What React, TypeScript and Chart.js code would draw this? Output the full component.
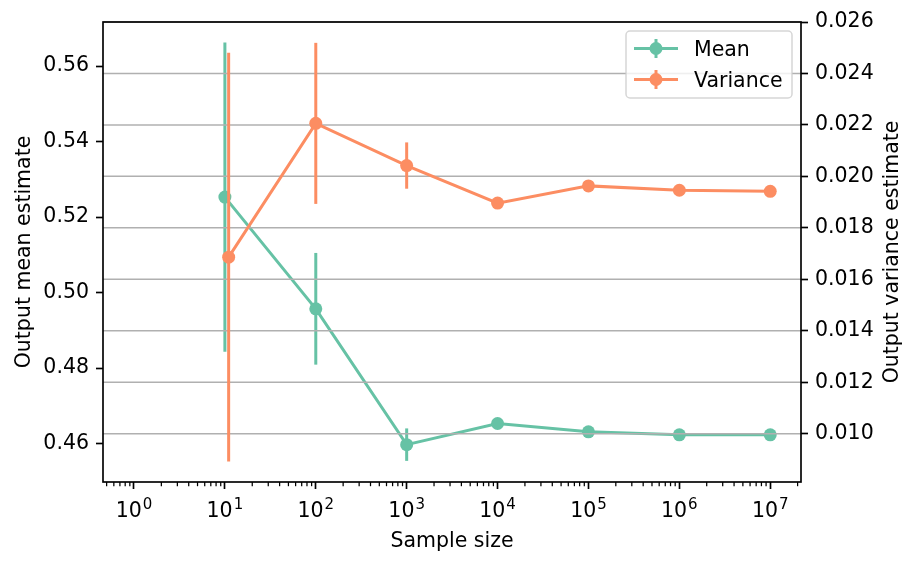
import React, { useEffect, useRef } from 'react';
import { Chart, registerables } from 'chart.js';

Chart.register(...registerables);

// ---- data ----
const meanSampleSizes = [10, 100, 1000, 1e4, 1e5, 1e6, 1e7];
const varianceSampleSizes = [11, 100, 1000, 1e4, 1e5, 1e6, 1e7];
const meanValues = [0.5253, 0.4957, 0.4597, 0.4653, 0.4631, 0.4623, 0.4623];
const meanErrors = [0.041, 0.0148, 0.0043, 0.0013, 0.0004, 0.00013, 0.00004];
const varianceValues = [0.01686, 0.02206, 0.02042, 0.01896, 0.01963, 0.01946, 0.01942];
const varianceErrors = [0.00794, 0.00313, 0.0009, 0.0002, 0.00007, 0.00002, 0.00001];
const seriesLabels = ['Mean', 'Variance'];
const xMajorTicks = [1, 10, 100, 1e3, 1e4, 1e5, 1e6, 1e7];
const meanTicks = [0.46, 0.48, 0.5, 0.52, 0.54, 0.56];
const varianceTicks = [0.01, 0.012, 0.014, 0.016, 0.018, 0.02, 0.022, 0.024, 0.026];
const xTitle = 'Sample size';
const yTitle = 'Output mean estimate';
const y1Title = 'Output variance estimate';

const GREEN = '#66c2a5';
const ORANGE = '#fc8d62';
const FONT = "'DejaVu Sans', sans-serif";
const FS = 20.5;
const SUP_FS = 15;

const X_MIN = 0.456;
const X_MAX = 2.18e7;

function drawErrorBars(chart: any, xs: number[], ys: number[], es: number[], axisId: string, color: string) {
  const { ctx, chartArea } = chart;
  const xS = chart.scales.x;
  const yS = chart.scales[axisId];
  ctx.save();
  ctx.beginPath();
  ctx.rect(chartArea.left, chartArea.top, chartArea.right - chartArea.left, chartArea.bottom - chartArea.top);
  ctx.clip();
  ctx.strokeStyle = color;
  ctx.lineWidth = 3;
  ctx.lineCap = 'butt';
  xs.forEach((x, i) => {
    const px = xS.getPixelForValue(x);
    ctx.beginPath();
    ctx.moveTo(px, yS.getPixelForValue(ys[i] - es[i]));
    ctx.lineTo(px, yS.getPixelForValue(ys[i] + es[i]));
    ctx.stroke();
  });
  ctx.restore();
}

function drawRightGrid(chart: any) {
  const { ctx, chartArea } = chart;
  const s = chart.scales.y1;
  ctx.save();
  ctx.strokeStyle = '#b0b0b0';
  ctx.lineWidth = 1.5;
  varianceTicks.forEach((v) => {
    const y = s.getPixelForValue(v);
    if (y < chartArea.top - 0.5 || y > chartArea.bottom + 0.5) return;
    ctx.beginPath();
    ctx.moveTo(chartArea.left, y);
    ctx.lineTo(chartArea.right, y);
    ctx.stroke();
  });
  ctx.restore();
}

const customPlugin = {
  id: 'mplLook',
  beforeDatasetDraw(chart: any, args: any) {
    if (args.index === 0) drawErrorBars(chart, meanSampleSizes, meanValues, meanErrors, 'y', GREEN);
    if (args.index === 1) drawErrorBars(chart, varianceSampleSizes, varianceValues, varianceErrors, 'y1', ORANGE);
  },
  afterDatasetDraw(chart: any, args: any) {
    if (args.index === 0) drawRightGrid(chart);
  },
  afterDraw(chart: any) {
    const { ctx, chartArea } = chart;
    const xS = chart.scales.x;
    ctx.save();
    // minor ticks on log x axis
    ctx.strokeStyle = '#000';
    ctx.lineWidth = 1.25;
    for (let d = -1; d <= 7; d++) {
      for (let m = 2; m <= 9; m++) {
        const v = m * Math.pow(10, d);
        if (v < X_MIN || v > X_MAX) continue;
        const px = xS.getPixelForValue(v);
        ctx.beginPath();
        ctx.moveTo(px, chartArea.bottom);
        ctx.lineTo(px, chartArea.bottom + 4.2);
        ctx.stroke();
      }
    }
    // frame
    ctx.lineWidth = 1.67;
    ctx.strokeRect(chartArea.left, chartArea.top, chartArea.right - chartArea.left, chartArea.bottom - chartArea.top);

    // x tick labels as 10^n (base + raised exponent)
    ctx.fillStyle = '#000';
    ctx.textBaseline = 'alphabetic';
    ctx.textAlign = 'left';
    xMajorTicks.forEach((v) => {
      const e = String(Math.round(Math.log10(v)));
      const px = xS.getPixelForValue(v);
      ctx.font = `${FS}px ${FONT}`;
      const wb = ctx.measureText('10').width;
      ctx.font = `${SUP_FS}px ${FONT}`;
      const we = ctx.measureText(e).width;
      const x0 = px - (wb + we + 1) / 2;
      ctx.font = `${FS}px ${FONT}`;
      ctx.fillText('10', x0, 516.6);
      ctx.font = `${SUP_FS}px ${FONT}`;
      ctx.fillText(e, x0 + wb + 1, 508.6);
    });

    // right axis title, reading bottom to top
    ctx.save();
    ctx.translate(893, (chartArea.top + chartArea.bottom) / 2);
    ctx.rotate(-Math.PI / 2);
    ctx.font = `${FS}px ${FONT}`;
    ctx.textAlign = 'center';
    ctx.textBaseline = 'middle';
    ctx.fillText(y1Title, 0, 0);
    ctx.restore();

    // legend
    const lx = 626, ly = 31, lw = 166, lh = 67;
    ctx.beginPath();
    (ctx as any).roundRect(lx, ly, lw, lh, 4);
    ctx.fillStyle = 'rgba(255,255,255,0.8)';
    ctx.fill();
    ctx.strokeStyle = 'rgba(204,204,204,0.8)';
    ctx.lineWidth = 1.5;
    ctx.stroke();
    const rows = [
      { label: seriesLabels[0], color: GREEN, cy: 48.5, base: 56 },
      { label: seriesLabels[1], color: ORANGE, cy: 79.5, base: 86.7 },
    ];
    rows.forEach((r) => {
      ctx.strokeStyle = r.color;
      ctx.fillStyle = r.color;
      ctx.lineWidth = 3;
      ctx.beginPath();
      ctx.moveTo(634, r.cy);
      ctx.lineTo(678, r.cy);
      ctx.stroke();
      ctx.beginPath();
      ctx.moveTo(656, r.cy - 9.5);
      ctx.lineTo(656, r.cy + 9.5);
      ctx.stroke();
      ctx.beginPath();
      ctx.arc(656, r.cy, 6.5, 0, Math.PI * 2);
      ctx.fill();
      ctx.fillStyle = '#000';
      ctx.font = `${FS}px ${FONT}`;
      ctx.textAlign = 'left';
      ctx.textBaseline = 'alphabetic';
      ctx.fillText(r.label, 694, r.base);
    });
    ctx.restore();
  },
};

export default function App() {
  const ref = useRef<HTMLCanvasElement | null>(null);

  useEffect(() => {
    const canvas = ref.current;
    if (!canvas) return;
    const font = { family: FONT, size: FS };
    const chart = new Chart(canvas, {
      type: 'line',
      data: {
        datasets: [
          {
            label: seriesLabels[0],
            data: meanSampleSizes.map((x, i) => ({ x, y: meanValues[i] })),
            yAxisID: 'y',
            borderColor: GREEN,
            backgroundColor: GREEN,
            borderWidth: 3,
            pointRadius: 6.5,
            pointHoverRadius: 6.5,
            pointBorderWidth: 0,
            pointBackgroundColor: GREEN,
            tension: 0,
            fill: false,
            order: 1,
          },
          {
            label: seriesLabels[1],
            data: varianceSampleSizes.map((x, i) => ({ x, y: varianceValues[i] })),
            yAxisID: 'y1',
            borderColor: ORANGE,
            backgroundColor: ORANGE,
            borderWidth: 3,
            pointRadius: 6.5,
            pointHoverRadius: 6.5,
            pointBorderWidth: 0,
            pointBackgroundColor: ORANGE,
            tension: 0,
            fill: false,
            order: 0,
          },
        ],
      },
      options: {
        responsive: false,
        animation: false,
        events: [],
        layout: { padding: { top: 22, left: 0, right: 0, bottom: 0 } },
        plugins: { legend: { display: false }, tooltip: { enabled: false } },
        scales: {
          x: {
            type: 'logarithmic',
            position: 'bottom',
            min: X_MIN,
            max: X_MAX,
            afterBuildTicks: (s: any) => {
              s.ticks = xMajorTicks.map((v) => ({ value: v }));
            },
            afterFit: (s: any) => {
              s.height = 84;
            },
            ticks: {
              font,
              color: '#000',
              padding: 10,
              maxRotation: 0,
              autoSkip: false,
              callback: () => '',
            },
            grid: { drawOnChartArea: false, drawTicks: true, tickLength: 7, tickWidth: 1.67, tickColor: '#000' },
            border: { display: false },
            title: { display: true, text: xTitle, font, color: '#000', padding: { top: 0, bottom: 12 } },
          },
          y: {
            type: 'linear',
            position: 'left',
            min: 0.4498,
            max: 0.5717,
            afterBuildTicks: (s: any) => {
              s.ticks = meanTicks.map((v) => ({ value: v }));
            },
            afterFit: (s: any) => {
              s.width = 103;
            },
            ticks: { font, color: '#000', padding: 7, callback: (v: any) => Number(v).toFixed(2) },
            grid: { drawOnChartArea: false, drawTicks: true, tickLength: 7, tickWidth: 1.67, tickColor: '#000' },
            border: { display: false },
            title: { display: true, text: yTitle, font, color: '#000', padding: { top: 12, bottom: 0 } },
          },
          y1: {
            type: 'linear',
            position: 'right',
            min: 0.00812,
            max: 0.026,
            afterBuildTicks: (s: any) => {
              s.ticks = varianceTicks.map((v) => ({ value: v }));
            },
            afterFit: (s: any) => {
              s.width = 118;
            },
            ticks: { font, color: '#000', padding: 7, callback: (v: any) => Number(v).toFixed(3) },
            grid: { drawOnChartArea: false, drawTicks: true, tickLength: 7, tickWidth: 1.67, tickColor: '#000' },
            border: { display: false },
            title: { display: false },
          },
        },
      } as any,
      plugins: [customPlugin],
    });
    return () => chart.destroy();
  }, []);

  return (
    <div style={{ position: 'fixed', left: 0, top: 0, width: 919, height: 566, background: '#fff' }}>
      <canvas ref={ref} width={919} height={566} style={{ display: 'block', width: 919, height: 566 }} />
    </div>
  );
}
